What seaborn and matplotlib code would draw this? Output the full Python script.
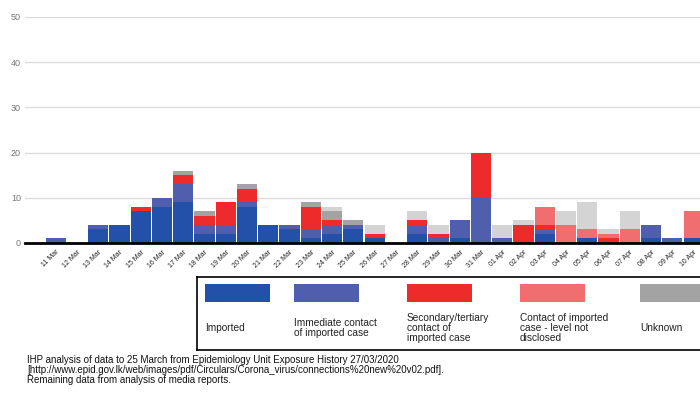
import numpy as np
import pandas as pd
import matplotlib
matplotlib.use("Agg")
import matplotlib.pyplot as plt
from matplotlib.patches import Rectangle
import seaborn as sns

# Datas (o gráfico original continua para a direita, cortado em 10 Apr)
dates = ["11 Mar", "12 Mar", "13 Mar", "14 Mar", "15 Mar", "16 Mar", "17 Mar",
         "18 Mar", "19 Mar", "20 Mar", "21 Mar", "22 Mar", "23 Mar", "24 Mar",
         "25 Mar", "26 Mar", "27 Mar", "28 Mar", "29 Mar", "30 Mar", "31 Mar",
         "01 Apr", "02 Apr", "03 Apr", "04 Apr", "05 Apr", "06 Apr", "07 Apr",
         "08 Apr", "09 Apr", "10 Apr"]

imported      = [0, 0, 3, 4, 7, 8, 9, 2, 2, 8, 4, 3, 1, 2, 3, 1, 0, 2, 0, 1, 0,
                 0, 0, 2, 0, 1, 0, 0, 1, 0, 1]
immediate     = [1, 0, 1, 0, 0, 2, 4, 2, 2, 1, 0, 1, 2, 2, 1, 0, 0, 2, 1, 4, 10,
                 1, 0, 1, 0, 0, 0, 0, 3, 1, 0]
secondary     = [0, 0, 0, 0, 1, 0, 2, 2, 5, 3, 0, 0, 5, 1, 0, 1, 0, 1, 1, 0, 10,
                 0, 4, 1, 0, 0, 1, 0, 0, 0, 0]
not_disclosed = [0, 0, 0, 0, 0, 0, 0, 0, 0, 0, 0, 0, 0, 0, 0, 0, 0, 0, 0, 0, 0,
                 0, 0, 4, 4, 2, 1, 3, 0, 0, 6]
unknown       = [0, 0, 0, 0, 0, 0, 1, 1, 0, 1, 0, 0, 1, 2, 1, 0, 0, 0, 0, 0, 0,
                 0, 0, 0, 0, 0, 0, 0, 0, 0, 0]
unknown_media = [0, 0, 0, 0, 0, 0, 0, 0, 0, 0, 0, 0, 0, 1, 0, 2, 0, 2, 2, 0, 0,
                 3, 1, 0, 3, 6, 1, 4, 0, 0, 0]

categories = ["Imported", "Immediate contact\nof imported case",
              "Secondary/tertiary\ncontact of\nimported case",
              "Contact of imported\ncase - level not\ndisclosed",
              "Unknown", "Unknown (media)"]
colors = ["#2350a8", "#4f5fae", "#ee2b2b", "#f06e70", "#a3a3a3", "#d4d4d4"]

series = [imported, immediate, secondary, not_disclosed, unknown, unknown_media]

# Tabela longa para o seaborn
rows = []
for cat, vals in zip(categories, series):
    for i, v in enumerate(vals):
        rows.append({"day": i, "cases": v, "cat": cat})
df = pd.DataFrame(rows)

sns.set_style("white")
plt.rcParams["font.family"] = ["Liberation Sans", "DejaVu Sans"]

fig = plt.figure(figsize=(7, 4), dpi=100)
ax = fig.add_axes([25 / 700, 157 / 400, 675 / 700, 226 / 400])

# seaborn empilha do último nível de hue para o primeiro
sns.histplot(data=df, x="day", weights="cases", hue="cat",
             hue_order=categories[::-1], palette=colors[::-1],
             multiple="stack", discrete=True, shrink=0.95,
             linewidth=0, alpha=1, legend=False, ax=ax)

ax.set_xlim(-1.44, 30.3)
ax.set_ylim(0, 50)
ax.set_yticks([0, 10, 20, 30, 40, 50])
ax.yaxis.grid(True, color="#dddddd", linewidth=1)
ax.set_axisbelow(True)
ax.set_xticks(range(len(dates)))
ax.set_xticklabels(dates, rotation=45, ha="right", rotation_mode="anchor",
                   fontsize=5, color="#222222")
ax.tick_params(axis="y", length=0, pad=3, labelsize=6.5, labelcolor="#777777")
ax.tick_params(axis="x", length=0, pad=4)
ax.set_xlabel("")
ax.set_ylabel("")
for s in ["left", "right", "top"]:
    ax.spines[s].set_visible(False)
ax.spines["bottom"].set_color("black")
ax.spines["bottom"].set_linewidth(2)

# Legenda desenhada à mão (caixa cortada à direita, como no original)
lax = fig.add_axes([197 / 700, 50 / 400, (760 - 197) / 700, 73 / 400])
lax.set_xlim(197, 760)
lax.set_ylim(350, 277)
lax.set_xticks([])
lax.set_yticks([])
for s in lax.spines.values():
    s.set_color("black")
    s.set_linewidth(1.2)
leg_x = [205, 294, 407, 520, 640]
for x0, cat, col in zip(leg_x, categories[:5], colors[:5]):
    lax.add_patch(Rectangle((x0, 284), 65, 18, color=col, lw=0))
    lax.text(x0, 328, cat, va="center", ha="left", fontsize=7.3,
             linespacing=1.0, color="#222222")

notes = ["IHP analysis of data to 25 March from Epidemiology Unit Exposure History 27/03/2020",
         "[http://www.epid.gov.lk/web/images/pdf/Circulars/Corona_virus/connections%20new%20v02.pdf].",
         "Remaining data from analysis of media reports."]
for k, line in enumerate(notes):
    fig.text(27 / 700, 1 - (363 + 10.2 * k) / 400, line, fontsize=7,
             va="baseline", ha="left", color="#111111")

fig.savefig("out.png", dpi=100)
